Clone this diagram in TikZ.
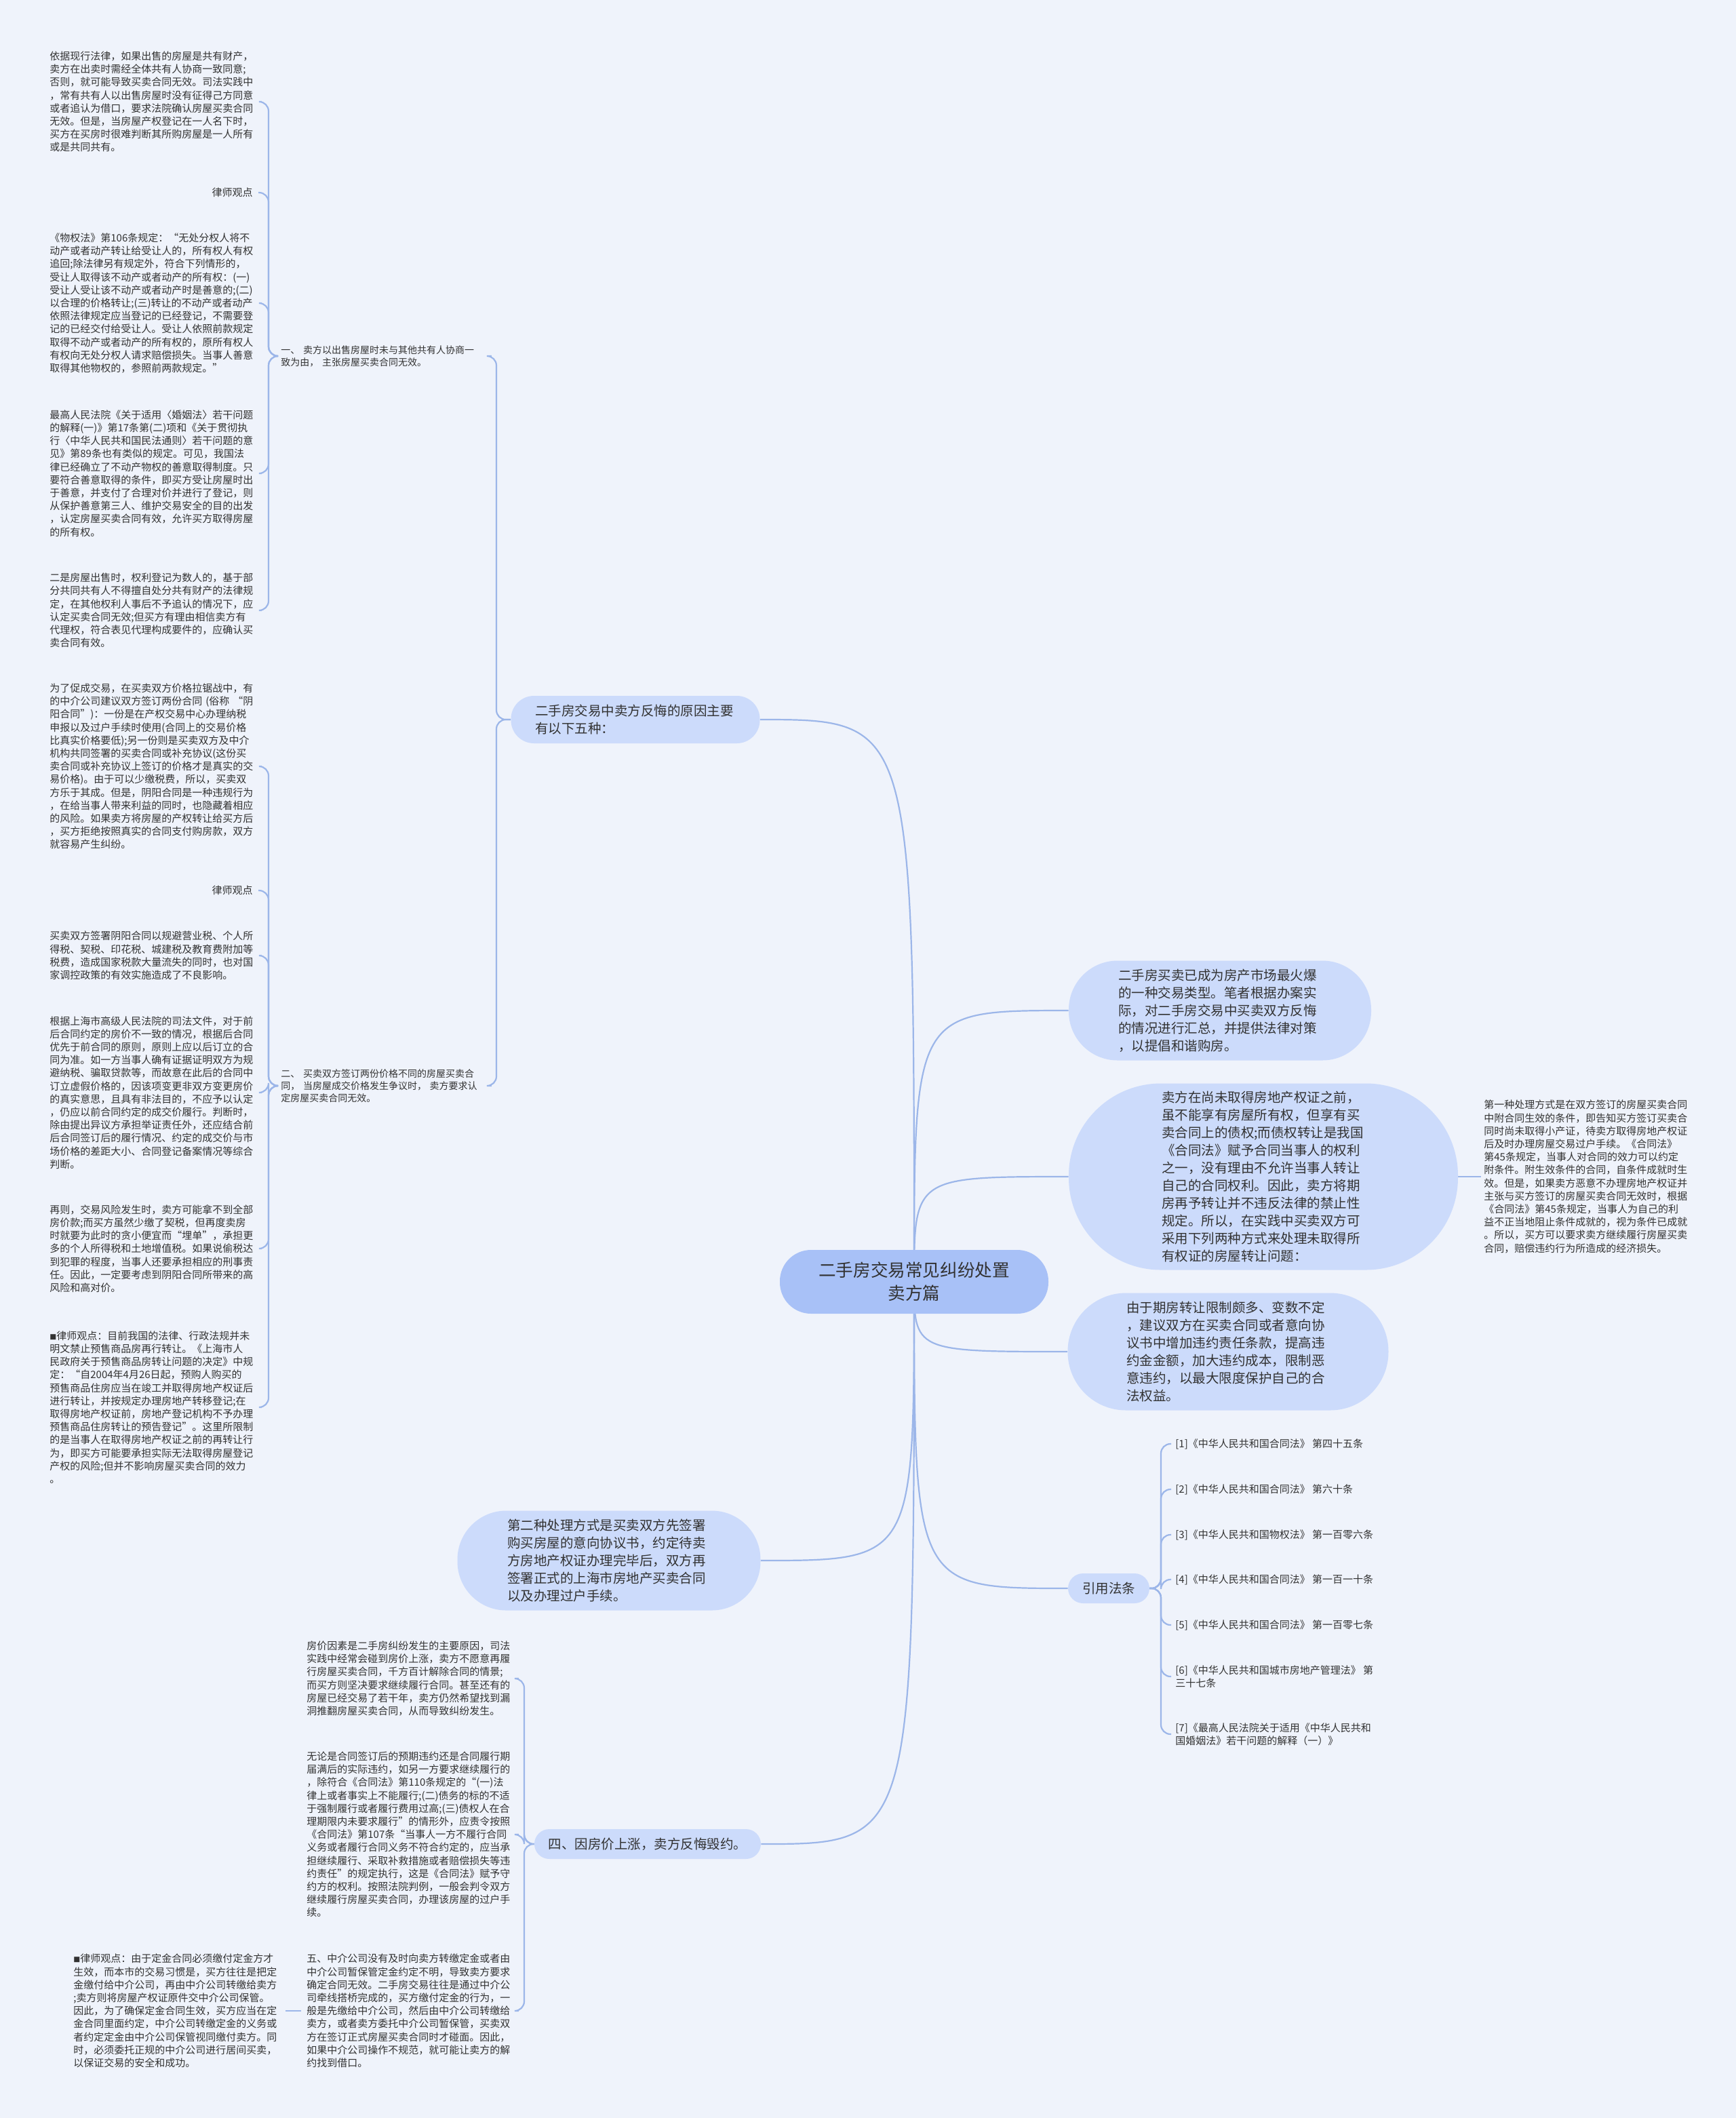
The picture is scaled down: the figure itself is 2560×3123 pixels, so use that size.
\documentclass[tikz,border=0pt]{standalone}
\usepackage{fontspec}
\setmainfont{Noto Sans CJK SC}
\usetikzlibrary{calc}
\definecolor{bgc}{RGB}{239,243,251}
\definecolor{lvone}{RGB}{204,219,251}
\definecolor{rootc}{RGB}{168,193,247}
\definecolor{linec}{RGB}{156,182,233}
\definecolor{txt}{RGB}{50,50,50}
\pgfdeclarelayer{bg}\pgfdeclarelayer{edges}\pgfsetlayers{bg,edges,main}
\newcommand\fsmall{\fontsize{7.5pt}{9.6pt}\selectfont}
\newcommand\fsong{\fontsize{7pt}{9pt}\selectfont}
\newcommand\fmid{\fontsize{9.75pt}{13pt}\selectfont}
\newcommand\froot{\fontsize{12.8pt}{17pt}\selectfont}
\newcommand\sqmark{{\fontsize{5pt}{5pt}\selectfont ■}}
\begin{document}
\begin{tikzpicture}[x=0.5pt,y=-0.5pt,
  sm/.style={font=\fsmall, text=txt, inner sep=0pt, align=left, text width=152pt, anchor=west},
  smn/.style={font=\fsmall, text=txt, inner sep=0pt, align=left, anchor=west},
  song/.style={font=\fsong, text=txt, inner sep=0pt, align=left, text width=152pt, anchor=west},
  lvl/.style={fill=lvone, text=txt, font=\fmid, align=left, inner sep=0pt, text width=150pt},
  rootn/.style={fill=rootc, text=txt, font=\froot, align=center, inner sep=0pt},
  conn/.style={draw=linec, line width=1.1pt},
  brk/.style={draw=linec, line width=1.1pt, rounded corners=7pt}]
\begin{pgfonlayer}{bg}
\fill[bgc] (0,0) rectangle (2560,3123);
\end{pgfonlayer}
\useasboundingbox (0,0) rectangle (2560,3123);

% root
\node[rootn, minimum width=198pt, minimum height=47pt, rounded corners=23pt] (root) at (1348,1890) {二手房交易常见纠纷处置\\卖方篇};

% right side
\node[lvl, minimum width=223pt, minimum height=73.5pt, rounded corners=36pt] (R1) at (1799,1490) {二手房买卖已成为房产市场最火爆\\的一种交易类型。笔者根据办案实\\际，对二手房交易中买卖双方反悔\\的情况进行汇总，并提供法律对策\\，以提倡和谐购房。};
\node[lvl, minimum width=287pt, minimum height=137.5pt, rounded corners=68pt] (R2) at (1863,1735) {卖方在尚未取得房地产权证之前，\\虽不能享有房屋所有权，但享有买\\卖合同上的债权;而债权转让是我国\\《合同法》赋予合同当事人的权利\\之一，没有理由不允许当事人转让\\自己的合同权利。因此，卖方将期\\房再予转让并不违反法律的禁止性\\规定。所以，在实践中买卖双方可\\采用下列两种方式来处理未取得所\\有权证的房屋转让问题：};
\node[sm] (R2c) at (2188,1735) {第一种处理方式是在双方签订的房屋买卖合同\\中附合同生效的条件，即告知买方签订买卖合\\同时尚未取得小产证，待卖方取得房地产权证\\后及时办理房屋交易过户手续。《合同法》\\第45条规定，当事人对合同的效力可以约定\\附条件。附生效条件的合同，自条件成就时生\\效。但是，如果卖方恶意不办理房地产权证并\\主张与买方签订的房屋买卖合同无效时，根据\\《合同法》第45条规定，当事人为自己的利\\益不正当地阻止条件成就的，视为条件已成就\\。所以，买方可以要求卖方继续履行房屋买卖\\合同，赔偿违约行为所造成的经济损失。};
\node[lvl, minimum width=236.5pt, minimum height=86.5pt, rounded corners=43pt] (R3) at (1811,1993) {由于期房转让限制颇多、变数不定\\，建议双方在买卖合同或者意向协\\议书中增加违约责任条款，提高违\\约金金额，加大违约成本，限制恶\\意违约，以最大限度保护自己的合\\法权益。};
\node[lvl, text width=, align=center, minimum width=60pt, minimum height=22pt, rounded corners=11pt] (R4) at (1635,2342) {引用法条};
\node[smn] (f1) at (1733,2129) {[1]《中华人民共和国合同法》 第四十五条};
\node[smn] (f2) at (1733,2196) {[2]《中华人民共和国合同法》 第六十条};
\node[smn] (f3) at (1733,2263) {[3]《中华人民共和国物权法》 第一百零六条};
\node[smn] (f4) at (1733,2329) {[4]《中华人民共和国合同法》 第一百一十条};
\node[smn] (f5) at (1733,2396) {[5]《中华人民共和国合同法》 第一百零七条};
\node[smn] (f6) at (1733,2472) {[6]《中华人民共和国城市房地产管理法》 第\\三十七条};
\node[smn] (f7) at (1733,2557) {[7]《最高人民法院关于适用《中华人民共和\\国婚姻法》若干问题的解释（一）》};

% left side
\node[lvl, text width=148pt, minimum width=183.5pt, minimum height=35pt, rounded corners=17pt] (L1) at (937,1061) {二手房交易中卖方反悔的原因主要\\有以下五种：};
\node[song] (A1) at (414,525) {一、 卖方以出售房屋时未与其他共有人协商一\\致为由， 主张房屋买卖合同无效。};
\node[sm] (ta) at (73,150) {依据现行法律，如果出售的房屋是共有财产，\\卖方在出卖时需经全体共有人协商一致同意;\\否则，就可能导致买卖合同无效。司法实践中\\，常有共有人以出售房屋时没有征得己方同意\\或者追认为借口，要求法院确认房屋买卖合同\\无效。但是，当房屋产权登记在一人名下时，\\买方在买房时很难判断其所购房屋是一人所有\\或是共同共有。};
\node[smn, anchor=east] (tb) at (373,284) {律师观点};
\node[sm] (tc) at (73,447) {《物权法》第106条规定：“无处分权人将不\\动产或者动产转让给受让人的，所有权人有权\\追回;除法律另有规定外，符合下列情形的，\\受让人取得该不动产或者动产的所有权：(一)\\受让人受让该不动产或者动产时是善意的;(二)\\以合理的价格转让;(三)转让的不动产或者动产\\依照法律规定应当登记的已经登记，不需要登\\记的已经交付给受让人。受让人依照前款规定\\取得不动产或者动产的所有权的，原所有权人\\有权向无处分权人请求赔偿损失。当事人善意\\取得其他物权的，参照前两款规定。”};
\node[sm] (td) at (73,698) {最高人民法院《关于适用〈婚姻法〉若干问题\\的解释(一)》第17条第(二)项和《关于贯彻执\\行〈中华人民共和国民法通则〉若干问题的意\\见》第89条也有类似的规定。可见，我国法\\律已经确立了不动产物权的善意取得制度。只\\要符合善意取得的条件，即买方受让房屋时出\\于善意，并支付了合理对价并进行了登记，则\\从保护善意第三人、维护交易安全的目的出发\\，认定房屋买卖合同有效，允许买方取得房屋\\的所有权。};
\node[sm] (te) at (73,900) {二是房屋出售时，权利登记为数人的，基于部\\分共同共有人不得擅自处分共有财产的法律规\\定，在其他权利人事后不予追认的情况下，应\\认定买卖合同无效;但买方有理由相信卖方有\\代理权，符合表见代理构成要件的，应确认买\\卖合同有效。};

\node[song] (B1) at (414,1601) {二、 买卖双方签订两份价格不同的房屋买卖合\\同， 当房屋成交价格发生争议时， 卖方要求认\\定房屋买卖合同无效。};
\node[sm] (tf) at (73,1130) {为了促成交易，在买卖双方价格拉锯战中，有\\的中介公司建议双方签订两份合同 (俗称 “阴\\阳合同”)：一份是在产权交易中心办理纳税\\申报以及过户手续时使用(合同上的交易价格\\比真实价格要低);另一份则是买卖双方及中介\\机构共同签署的买卖合同或补充协议(这份买\\卖合同或补充协议上签订的价格才是真实的交\\易价格)。由于可以少缴税费，所以，买卖双\\方乐于其成。但是，阴阳合同是一种违规行为\\，在给当事人带来利益的同时，也隐藏着相应\\的风险。如果卖方将房屋的产权转让给买方后\\，买方拒绝按照真实的合同支付购房款，双方\\就容易产生纠纷。};
\node[smn, anchor=east] (tg) at (373,1313) {律师观点};
\node[sm] (th) at (73,1409) {买卖双方签署阴阳合同以规避营业税、个人所\\得税、契税、印花税、城建税及教育费附加等\\税费，造成国家税款大量流失的同时，也对国\\家调控政策的有效实施造成了不良影响。};
\node[sm] (ti) at (73,1611) {根据上海市高级人民法院的司法文件，对于前\\后合同约定的房价不一致的情况，根据后合同\\优先于前合同的原则，原则上应以后订立的合\\同为准。如一方当事人确有证据证明双方为规\\避纳税、骗取贷款等，而故意在此后的合同中\\订立虚假价格的，因该项变更非双方变更房价\\的真实意思，且具有非法目的，不应予以认定\\，仍应以前合同约定的成交价履行。判断时，\\除由提出异议方承担举证责任外，还应结合前\\后合同签订后的履行情况、约定的成交价与市\\场价格的差距大小、合同登记备案情况等综合\\判断。};
\node[sm] (tj) at (73,1841) {再则，交易风险发生时，卖方可能拿不到全部\\房价款;而买方虽然少缴了契税，但再度卖房\\时就要为此时的贪小便宜而“埋单”，承担更\\多的个人所得税和土地增值税。如果说偷税达\\到犯罪的程度，当事人还要承担相应的刑事责\\任。因此，一定要考虑到阴阳合同所带来的高\\风险和高对价。};
\node[sm] (tk) at (73,2075) {\sqmark 律师观点：目前我国的法律、行政法规并未\\明文禁止预售商品房再行转让。《上海市人\\民政府关于预售商品房转让问题的决定》中规\\定：“自2004年4月26日起，预购人购买的\\预售商品住房应当在竣工并取得房地产权证后\\进行转让，并按规定办理房地产转移登记;在\\取得房地产权证前，房地产登记机构不予办理\\预售商品住房转让的预告登记”。这里所限制\\的是当事人在取得房地产权证之前的再转让行\\为，即买方可能要承担实际无法取得房屋登记\\产权的风险;但并不影响房屋买卖合同的效力\\。};

\node[lvl, minimum width=223.5pt, minimum height=73.5pt, rounded corners=36pt] (L2) at (898,2301) {第二种处理方式是买卖双方先签署\\购买房屋的意向协议书，约定待卖\\方房地产权证办理完毕后，双方再\\签署正式的上海市房地产买卖合同\\以及办理过户手续。};

\node[lvl, text width=, align=center, minimum width=167pt, minimum height=22pt, rounded corners=11pt] (L3) at (955,2719) {四、因房价上涨，卖方反悔毁约。};
\node[sm] (la) at (452,2475) {房价因素是二手房纠纷发生的主要原因，司法\\实践中经常会碰到房价上涨，卖方不愿意再履\\行房屋买卖合同，千方百计解除合同的情景;\\而买方则坚决要求继续履行合同。甚至还有的\\房屋已经交易了若干年，卖方仍然希望找到漏\\洞推翻房屋买卖合同，从而导致纠纷发生。};
\node[sm] (lb) at (452,2705) {无论是合同签订后的预期违约还是合同履行期\\届满后的实际违约，如另一方要求继续履行的\\，除符合《合同法》第110条规定的“(一)法\\律上或者事实上不能履行;(二)债务的标的不适\\于强制履行或者履行费用过高;(三)债权人在合\\理期限内未要求履行”的情形外，应责令按照\\《合同法》第107条“当事人一方不履行合同\\义务或者履行合同义务不符合约定的，应当承\\担继续履行、采取补救措施或者赔偿损失等违\\约责任”的规定执行，这是《合同法》赋予守\\约方的权利。按照法院判例，一般会判令双方\\继续履行房屋买卖合同，办理该房屋的过户手\\续。};
\node[sm] (lc) at (452,2965) {五、中介公司没有及时向卖方转缴定金或者由\\中介公司暂保管定金约定不明，导致卖方要求\\确定合同无效。二手房交易往往是通过中介公\\司牵线搭桥完成的，买方缴付定金的行为，一\\般是先缴给中介公司，然后由中介公司转缴给\\卖方，或者卖方委托中介公司暂保管，买卖双\\方在签订正式房屋买卖合同时才碰面。因此，\\如果中介公司操作不规范，就可能让卖方的解\\约找到借口。};
\node[sm] (ld) at (108,2965) {\sqmark 律师观点：由于定金合同必须缴付定金方才\\生效，而本市的交易习惯是，买方往往是把定\\金缴付给中介公司，再由中介公司转缴给卖方\\;卖方则将房屋产权证原件交中介公司保管。\\因此，为了确保定金合同生效，买方应当在定\\金合同里面约定，中介公司转缴定金的义务或\\者约定定金由中介公司保管视同缴付卖方。同\\时，必须委托正规的中介公司进行居间买卖，\\以保证交易的安全和成功。};

% connectors
\coordinate (bR4) at (1712,0);
\coordinate (bL1) at (732,0);
\coordinate (bA1) at (396,0);
\coordinate (bB1) at (396,0);
\coordinate (bL3) at (773,0);
\begin{pgfonlayer}{edges}
\foreach \n in {R1,R2,R3,R4}
  \draw[conn] (root.center) .. controls (root.center |- \n.west) .. (\n.west);
\foreach \n in {L1,L2,L3}
  \draw[conn] (root.center) .. controls (root.center |- \n.east) .. (\n.east);
\draw[conn] (R2.east) -- ([xshift=-2pt]R2c.west);
\foreach \n in {f1,f2,f3,f4,f5,f6,f7}
  \draw[brk] (R4.east) -- (R4.east -| bR4) -- (\n.west -| bR4) -- ([xshift=-3pt]\n.west);
\foreach \n in {A1,B1}
  \draw[brk] (L1.west) -- (L1.west -| bL1) -- (\n.east -| bL1) -- ([xshift=3pt]\n.east);
\foreach \n in {ta,tb,tc,td,te}
  \draw[brk] ([xshift=-3pt]A1.west) -- (A1.west -| bA1) -- (\n.east -| bA1) -- ([xshift=4pt]\n.east);
\foreach \n in {tf,tg,th,ti,tj,tk}
  \draw[brk] ([xshift=-3pt]B1.west) -- (B1.west -| bB1) -- (\n.east -| bB1) -- ([xshift=4pt]\n.east);
\foreach \n in {la,lb,lc}
  \draw[brk] (L3.west) -- (L3.west -| bL3) -- (\n.east -| bL3) -- ([xshift=4pt]\n.east);
\draw[conn] ([xshift=-4pt]lc.west) -- ([xshift=4pt]ld.east);
\end{pgfonlayer}
\end{tikzpicture}
\end{document}
